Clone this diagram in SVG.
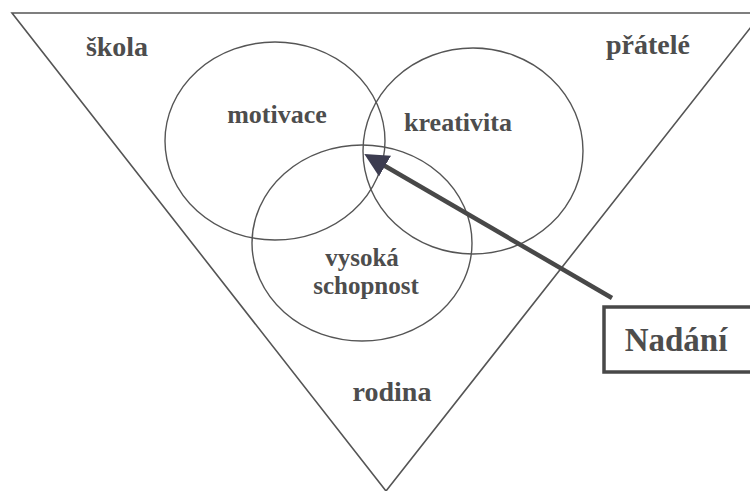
<svg xmlns="http://www.w3.org/2000/svg" width="750" height="491" viewBox="0 0 750 491">
  <defs>
    <style>
      .lbl { font-family: "Liberation Serif", "DejaVu Serif", "Times New Roman", serif; font-weight: bold; fill: #4d4d4d; text-anchor: middle; }
      .ring { fill: none; stroke: #555; stroke-width: 1.4; }
      .frame { fill: none; stroke: #555; stroke-width: 1.6; }
      .conn { fill: none; stroke: #484848; stroke-width: 4.5; }
      .box { fill: #fff; stroke: #484848; stroke-width: 3.5; }
    </style>
    <marker id="head" viewBox="0 0 24 24" refX="10" refY="12" markerWidth="24" markerHeight="24" markerUnits="userSpaceOnUse" orient="auto">
      <path d="M0,0 L24,12 L0,24 z" fill="#3c3c50"/>
    </marker>
  </defs>
  <rect width="750" height="491" fill="#fff"/>

  <g id="triangle">
    <path class="frame" d="M12,13 L762,13 L386,491 Z"/>
  </g>

  <g id="skola"><text class="lbl" x="117" y="56" font-size="28">škola</text></g>
  <g id="pratele"><text class="lbl" x="648" y="54" font-size="28">přátelé</text></g>
  <g id="rodina"><text class="lbl" x="392" y="401" font-size="28">rodina</text></g>

  <g id="motivace">
    <ellipse class="ring" cx="275" cy="141" rx="110" ry="99"/>
    <text class="lbl" x="277" y="123" font-size="26">motivace</text>
  </g>
  <g id="kreativita">
    <ellipse class="ring" cx="473" cy="151" rx="110" ry="103"/>
    <text class="lbl" x="458" y="131" font-size="26">kreativita</text>
  </g>
  <g id="vysoka-schopnost">
    <ellipse class="ring" cx="362" cy="243" rx="110" ry="98"/>
    <text class="lbl" x="362" y="266" font-size="25">vysoká</text>
    <text class="lbl" x="366" y="294" font-size="25">schopnost</text>
  </g>

  <g id="connectors">
    <path class="conn" d="M612,298 L376.4,161" marker-end="url(#head)"/>
  </g>

  <g id="nadani">
    <rect class="box" x="604" y="307" width="160" height="65"/>
    <text class="lbl" x="676" y="351" font-size="33">Nadání</text>
  </g>
</svg>
